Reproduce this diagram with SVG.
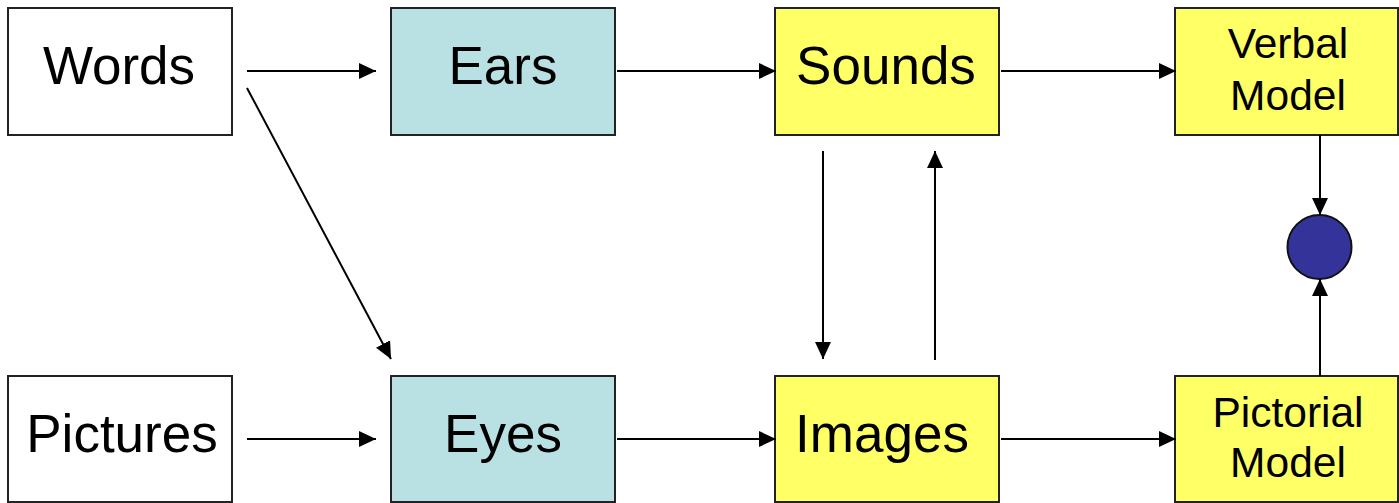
<svg xmlns="http://www.w3.org/2000/svg" width="1399" height="503" viewBox="0 0 1399 503">
<defs>
<marker id="ah" viewBox="0 0 17 16" refX="17" refY="8" markerWidth="17" markerHeight="16" markerUnits="userSpaceOnUse" orient="auto">
<path d="M0,0 L17,8 L0,16 Z" fill="#000"/>
</marker>
<style>
.box{stroke:#222;stroke-width:2}
.white{fill:#fff}
.blue{fill:#B9E0E3}
.yellow{fill:#FFFF66}
.big{font-family:"Liberation Sans",Arial,sans-serif;font-size:53px;fill:#000;text-anchor:middle}
.small{font-family:"Liberation Sans",Arial,sans-serif;font-size:42.5px;fill:#000;text-anchor:middle}
.conn line{stroke:#000;stroke-width:2;marker-end:url(#ah)}
</style>
</defs>
<rect width="1399" height="503" fill="#fff"/>
<g id="words"><rect class="box white" x="8" y="8" width="224" height="127"/><text class="big" x="119" y="84">Words</text></g>
<g id="ears"><rect class="box blue" x="391" y="8" width="224" height="127"/><text class="big" x="503" y="84">Ears</text></g>
<g id="sounds"><rect class="box yellow" x="775" y="8" width="224" height="127"/><text class="big" x="886" y="84">Sounds</text></g>
<g id="verbal"><rect class="box yellow" x="1175" y="8" width="223" height="127"/><text class="small" x="1288" y="58">Verbal</text><text class="small" x="1288" y="110">Model</text></g>
<g id="pictures"><rect class="box white" x="8" y="376" width="224" height="126"/><text class="big" x="122" y="452">Pictures</text></g>
<g id="eyes"><rect class="box blue" x="391" y="376" width="224" height="126"/><text class="big" x="503" y="452">Eyes</text></g>
<g id="images"><rect class="box yellow" x="775" y="376" width="224" height="126"/><text class="big" x="882" y="452">Images</text></g>
<g id="pictorial"><rect class="box yellow" x="1175" y="376" width="223" height="126"/><text class="small" x="1288" y="427">Pictorial</text><text class="small" x="1288" y="477">Model</text></g>
<g id="merge"><circle cx="1319.5" cy="247" r="32" fill="#333399" stroke="#111" stroke-width="2"/></g>
<g id="connectors" class="conn">
<line x1="247" y1="71" x2="376" y2="71"/>
<line x1="247" y1="88" x2="391" y2="359"/>
<line x1="247" y1="439" x2="376" y2="439"/>
<line x1="617" y1="71" x2="776" y2="71"/>
<line x1="1001" y1="71" x2="1176" y2="71"/>
<line x1="617" y1="439" x2="776" y2="439"/>
<line x1="1001" y1="439" x2="1176" y2="439"/>
<line x1="823" y1="151" x2="823" y2="359"/>
<line x1="935" y1="360" x2="935" y2="151"/>
<line x1="1320" y1="135" x2="1320" y2="215"/>
<line x1="1320" y1="376" x2="1320" y2="279"/>
</g>
</svg>
